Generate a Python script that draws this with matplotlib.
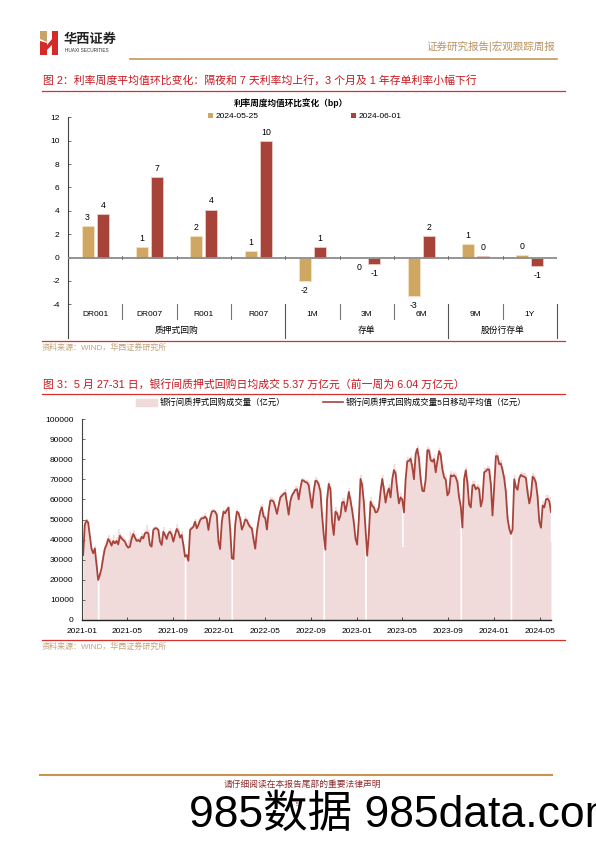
import numpy as np
import pandas as pd
import matplotlib
matplotlib.use("Agg")
import matplotlib.pyplot as plt
import matplotlib.dates as mdates
from matplotlib.lines import Line2D
from matplotlib.patches import Polygon, Patch

plt.rcParams['font.family'] = ['Liberation Sans', 'Noto Sans CJK SC', 'DejaVu Sans']
plt.rcParams['axes.unicode_minus'] = False

# ---------------- data: chart 1 ----------------
categories = ['DR001', 'DR007', 'R001', 'R007', '1M', '3M', '6M', '9M', '1Y']
groups = ['质押式回购', '存单', '股份行存单']
group_sizes = [4, 3, 2]
series_names = ['2024-05-25', '2024-06-01']
vals_0525 = [2.69, 0.91, 1.86, 0.52, -2.02, -0.06, -3.29, 1.14, 0.23]
vals_0601 = [3.71, 6.86, 4.09, 9.94, 0.86, -0.54, 1.86, 0.14, -0.71]
y1_ticks = [-4, -2, 0, 2, 4, 6, 8, 10, 12]

# ---------------- data: chart 2 (亿元) ----------------
ts_start, ts_end = '2021-01-04', '2024-05-31'
ma_part1 = [32300, 47300, 49500, 48500, 42000, 35500, 33200, 35600, 28000, 19900,
            22400, 25700, 31000, 35500, 37300, 40300, 39000, 37000, 39300, 38100,
            39300, 37600, 41900, 40600, 39800, 39000, 37000, 36000, 36500, 40300,
            42800, 41000, 39300, 39800, 39000, 41400, 40600, 43100, 43600, 43100,
            37300, 36500, 44800, 45600, 45600, 44800, 39000, 37300, 43900, 42300,
            40300, 43100, 43900, 42300, 39000, 42300, 45300, 43900, 41000, 42300,
            37300, 31500, 32300, 29500, 44800, 45600, 46400, 48900, 45600, 47300,
            49700, 50600, 50600, 51400, 50200, 44800, 50600, 53900, 54200, 53900,
            52200, 39000, 35300, 48900, 53900, 53100, 54700, 55900, 45000, 30700,
            30300, 47300, 53900, 53100, 50200]
ma_part2 = [45000, 47000, 50000, 49500, 47500, 46200, 45500, 40000, 35500, 44000,
            49500, 54000, 56000, 51500, 50600, 45000, 53900, 59400, 59500, 58800,
            56000, 52800, 57000, 61000, 61800, 62800, 63200, 58000, 52400, 59000,
            62000, 63300, 64800, 65000, 60000, 65500, 69600, 69300, 68600, 68400,
            67000, 61000, 55800, 64000, 69300, 69000, 67300, 64000, 52000, 42300,
            35000, 60000, 67700, 65000, 48900, 42300, 53900, 53000, 49700, 52000,
            58500, 58800, 54000, 58000, 63700, 59500, 54500, 48500, 40500, 37500,
            50000, 70200, 67000, 58500, 45000, 32000, 43000, 58900, 56800, 56000,
            53500, 53800, 56000, 64000, 70200, 65000, 58400, 63000, 65500, 61000,
            70000, 74600, 72900]
ma_part3 = [64500, 58000, 61000, 60000, 53500, 70000, 79000, 79100, 80200, 76000,
            70000, 82500, 85200, 80000, 70000, 64300, 64000, 70000, 84500, 84300,
            79500, 78800, 80000, 73500, 79000, 84000, 82000, 75000, 71000, 69800,
            62000, 63500, 72000, 71500, 72000, 71000, 68500, 61000, 56500, 46000,
            70000, 74500, 68000, 57500, 56000, 67000, 67200, 65000, 66000, 65000,
            56500, 60000, 73500, 74000, 75000, 74800, 67500, 52000, 66000, 81500,
            81500, 77500, 77800, 74500, 70500, 63500, 50500, 45500, 42800, 45000,
            70000, 66000, 64800, 70500, 72200, 71500, 71300, 70600, 63500, 58000,
            62000, 71300, 70400, 68000, 61000, 49000, 45900, 57000, 56000, 60000,
            60300, 59000, 53700]
raw_part1 = [44000, 49500, 50500, 49000, 40000, 36000, 34500, 37000, 30000, 0,
             24000, 30000, 35000, 38500, 40000, 42500, 41000, 39500, 42500, 40000,
             41500, 45500, 43500, 42000, 41500, 40500, 38500, 40000, 44500, 42500,
             45000, 43000, 41000, 41500, 41000, 43500, 43000, 45000, 47500, 45000,
             38500, 40500, 46500, 47000, 46500, 45500, 40000, 41500, 46500, 44000,
             42500, 45000, 46000, 44500, 41500, 45000, 48000, 46000, 43000, 44500,
             38000, 0, 33000, 34000, 46500, 47000, 49000, 50500, 47500, 49500,
             51500, 52000, 52500, 53500, 51500, 47000, 53000, 55500, 55500, 55000,
             53500, 40000, 38000, 52000, 55500, 55000, 56500, 57000, 46000, 0,
             32000, 50500, 55500, 54500, 51500]
raw_part2 = [47000, 49000, 52000, 51000, 49000, 48000, 47000, 42000, 37500, 47000,
             52000, 57500, 58000, 53500, 52500, 47000, 57000, 61500, 61000, 60500,
             58000, 55000, 59500, 63000, 63500, 64500, 65500, 60000, 54500, 62000,
             64000, 65500, 67000, 67000, 62000, 68000, 71000, 70500, 70000, 70000,
             69000, 63000, 58000, 67000, 71500, 70500, 69000, 66000, 54000, 0,
             36000, 63000, 69500, 66500, 50500, 45000, 56500, 55000, 52000, 55000,
             61000, 61000, 56500, 60500, 66000, 61500, 56500, 50500, 42500, 39000,
             53000, 72500, 69000, 60500, 0, 33500, 46500, 61500, 59000, 58000,
             56000, 56000, 58500, 67000, 72500, 67000, 60500, 65500, 68000, 64000,
             73000, 78000, 75000]
raw_part3 = [67000, 60000, 63500, 36500, 56000, 73000, 81500, 81000, 82000, 78000,
             72000, 85000, 87000, 82000, 72000, 66500, 66500, 73000, 86500, 86000,
             81500, 81000, 82500, 76000, 81500, 86000, 84000, 77000, 73500, 72000,
             64000, 66000, 74500, 73500, 74000, 73000, 70500, 63000, 0, 48000,
             72500, 76500, 70000, 59500, 58000, 69500, 69500, 67000, 68000, 67000,
             58500, 62500, 76000, 76000, 77000, 76500, 69500, 54000, 68500, 84000,
             83000, 79500, 80000, 76500, 72500, 65500, 52500, 47500, 0, 47000,
             72500, 68000, 67000, 72500, 74000, 73500, 73500, 72500, 65500, 60000,
             64500, 73500, 72500, 70000, 63000, 51000, 48000, 59500, 58000, 62500,
             62500, 61500, 39000]
y2_ticks = [0, 10000, 20000, 30000, 40000, 50000, 60000, 70000, 80000, 90000, 100000]
legend2 = ['银行间质押式回购成交量（亿元）', '银行间质押式回购成交量5日移动平均值（亿元）']

# ---------------- styles ----------------
GOLD = '#CFA662'
RED = '#A8433A'
TITLE_RED = '#C9161D'
LINE_RED = '#D8302B'
SRC = '#C2A27A'
AREA = '#F0DADA'

W, H = 596, 843
fx = lambda x: x / W
fy = lambda y: 1 - y / H

fig = plt.figure(figsize=(5.96, 8.43), dpi=100)
fig.patch.set_facecolor('white')

# ---------------- header ----------------
def poly(pts, color):
    fig.add_artist(Polygon([(fx(a), fy(b)) for a, b in pts], closed=True,
                           transform=fig.transFigure, color=color, lw=0))

poly([(40, 31), (47, 31), (47, 42), (40, 39)], '#C9A46A')
poly([(40, 41), (47, 43), (47, 55), (40, 55)], '#D42A2A')
poly([(52, 31), (58, 31), (58, 55), (52, 55)], '#D42A2A')
poly([(47, 45), (52, 39), (52, 45), (47, 50)], '#D42A2A')
fig.text(fx(64), fy(38.5), '华西证券', fontsize=9.5, fontweight='bold', va='center',
         ha='left', color='#222222', family=['Noto Sans CJK SC'])
fig.text(fx(65), fy(51), 'HUAXI SECURITIES', fontsize=3.4, va='center', ha='left',
         color='#333333')
fig.add_artist(Line2D([fx(130), fx(557)], [fy(58.5)] * 2, color='#C9A06A', lw=1.3))
fig.text(fx(555), fy(46), '证券研究报告|宏观跟踪周报', ha='right', va='center',
         color='#B89464', fontsize=7.6)

# ---------------- figure 2 title ----------------
fig.text(fx(43), fy(80), '图 2：利率周度平均值环比变化：隔夜和 7 天利率均上行，3 个月及 1 年存单利率小幅下行',
         color=TITLE_RED, fontsize=7.8, va='center', ha='left')
fig.add_artist(Line2D([fx(42), fx(565)], [fy(90.5)] * 2, color=LINE_RED, lw=0.9))
fig.text(fx(291), fy(103), '利率周度均值环比变化（bp）', ha='center', va='center',
         fontsize=6.2, fontweight='bold')

# ---------------- chart 1 ----------------
ax1 = fig.add_axes([fx(68), fy(304.3), fx(557) - fx(68), fy(117.3) - fy(304.3)])
x = np.arange(len(categories))
bw, off = 0.22, 0.14
b1 = ax1.bar(x - off, vals_0525, bw, color=GOLD, edgecolor='#F2E2C4', lw=0.6,
             label=series_names[0], zorder=2)
b2 = ax1.bar(x + off, vals_0601, bw, color=RED, edgecolor='#EBCAC4', lw=0.6,
             label=series_names[1], zorder=2)
for bars, vals in ((b1, vals_0525), (b2, vals_0601)):
    for rect, v in zip(bars, vals):
        lab = f"{int(round(v))}"
        cx = rect.get_x() + rect.get_width() / 2
        dy = 6.3 if v >= 0 else -7.0
        ax1.annotate(lab, (cx, v), xytext=(0, dy), textcoords='offset points',
                     ha='center', va='center', fontsize=6.3, annotation_clip=False)
ax1.set_xlim(-0.5, len(categories) - 0.5)
ax1.set_ylim(-4, 12)
ax1.set_yticks(y1_ticks)
ax1.set_yticklabels([str(t) for t in y1_ticks])
ax1.tick_params(axis='y', direction='in', length=2, width=0.6, labelsize=6, pad=6,
                color='#555555')
ax1.set_xticks([])
for s in ('top', 'right', 'bottom'):
    ax1.spines[s].set_visible(False)
ax1.spines['left'].set_color('#444444')
ax1.spines['left'].set_linewidth(0.8)
ax1.axhline(0, color='#8C8C8C', lw=1.3, zorder=3)
tr = ax1.get_xaxis_transform()
for b in np.arange(0.5, len(categories) - 0.5, 1.0):
    ax1.plot([b, b], [-0.12, 0.12], color='#666666', lw=0.6, zorder=3)
ax1.plot([-0.5, -0.5], [-0.182, 0], transform=tr, color='#444444', lw=0.8, clip_on=False)
bounds = np.cumsum(group_sizes) - 0.5
for b in np.arange(0.5, len(categories) + 0.5, 1.0):
    if b in bounds:
        ax1.plot([b, b], [-0.182, 0], transform=tr, color='#555555', lw=0.8, clip_on=False)
    else:
        ax1.plot([b, b], [-0.078, 0], transform=tr, color='#777777', lw=0.8, clip_on=False)
for i, c in enumerate(categories):
    ax1.text(i, -0.053, c, transform=tr, ha='center', va='center', fontsize=6)
start = 0
for g, n in zip(groups, group_sizes):
    ax1.text(start + (n - 1) / 2, -0.139, g, transform=tr, ha='center', va='center',
             fontsize=6.3)
    start += n

lg_a = fig.legend(handles=[b1], labels=[series_names[0]], loc='center left',
                  bbox_to_anchor=(fx(208), fy(116.4)), frameon=False, fontsize=6,
                  handlelength=0.6, handleheight=0.6, handletextpad=0.3,
                  borderpad=0, borderaxespad=0)
lg_b = fig.legend(handles=[b2], labels=[series_names[1]], loc='center left',
                  bbox_to_anchor=(fx(351), fy(116.4)), frameon=False, fontsize=6,
                  handlelength=0.6, handleheight=0.6, handletextpad=0.3,
                  borderpad=0, borderaxespad=0)
for lg in (lg_a, lg_b):
    for h in lg.legend_handles:
        h.set_edgecolor('none')

fig.add_artist(Line2D([fx(42), fx(565)], [fy(341)] * 2, color=LINE_RED, lw=0.9))
fig.text(fx(42), fy(347.5), '资料来源：WIND，华西证券研究所', color=SRC, fontsize=5.8,
         va='center', ha='left')

# ---------------- figure 3 title ----------------
fig.text(fx(43), fy(384), '图 3：5 月 27-31 日，银行间质押式回购日均成交 5.37 万亿元（前一周为 6.04 万亿元）',
         color=TITLE_RED, fontsize=7.8, va='center', ha='left')
fig.add_artist(Line2D([fx(42), fx(565)], [fy(394)] * 2, color=LINE_RED, lw=0.9))

# ---------------- chart 2 ----------------
ma = ma_part1 + ma_part2 + ma_part3
raw = raw_part1 + raw_part2 + raw_part3
dates = pd.date_range(ts_start, ts_end, periods=len(ma))

ax2 = fig.add_axes([fx(82), fy(620), fx(551) - fx(82), fy(419) - fy(620)])
area = ax2.fill_between(dates, raw, 0, step='mid', color=AREA, lw=0, label=legend2[0])
line, = ax2.plot(dates, ma, color=RED, lw=1.3, label=legend2[1])
ax2.set_xlim(pd.Timestamp('2021-01-01'), pd.Timestamp('2024-05-31'))
ax2.set_ylim(0, 100000)
ax2.set_yticks(y2_ticks)
ax2.set_yticklabels([str(t) for t in y2_ticks])
ax2.xaxis.set_major_locator(mdates.MonthLocator(bymonth=[1, 5, 9]))
ax2.xaxis.set_major_formatter(mdates.DateFormatter('%Y-%m'))
ax2.tick_params(axis='y', direction='in', length=2, width=0.6, labelsize=6, pad=6,
                color='#555555')
ax2.tick_params(axis='x', direction='in', length=2, width=0.6, labelsize=6, pad=6,
                color='#333333')
for s in ('top', 'right'):
    ax2.spines[s].set_visible(False)
ax2.spines['left'].set_color('#444444')
ax2.spines['left'].set_linewidth(0.8)
ax2.spines['bottom'].set_color('#222222')
ax2.spines['bottom'].set_linewidth(1.0)

la = fig.legend(handles=[Patch(color=AREA)], labels=[legend2[0]], loc='center left',
                bbox_to_anchor=(fx(136), fy(403)), frameon=False, fontsize=6,
                handlelength=2.5, handleheight=0.9, handletextpad=0.3,
                borderpad=0, borderaxespad=0)
lb = fig.legend(handles=[Line2D([], [], color=RED, lw=1.2)], labels=[legend2[1]],
                loc='center left', bbox_to_anchor=(fx(323), fy(403)), frameon=False,
                fontsize=6, handlelength=2.4, handletextpad=0.35, borderpad=0,
                borderaxespad=0)

fig.add_artist(Line2D([fx(42), fx(565)], [fy(640)] * 2, color=LINE_RED, lw=0.9))
fig.text(fx(42), fy(646.5), '资料来源：WIND，华西证券研究所', color=SRC, fontsize=5.8,
         va='center', ha='left')

# ---------------- footer ----------------
fig.add_artist(Line2D([fx(40), fx(552)], [fy(774.5)] * 2, color='#C8934E', lw=1.5))
fig.text(fx(302), fy(784), '请仔细阅读在本报告尾部的重要法律声明', color='#8C2B2B',
         fontsize=6.3, ha='center', va='center')
fig.text(fx(189), fy(815), '985数据 985data.com', color='black', fontsize=32,
         ha='left', va='center')
fig.text(fx(297), fy(804), '5', color='#8C2B2B', fontsize=4, ha='center', va='center')

fig.savefig('out.png', dpi=100, facecolor='white')
